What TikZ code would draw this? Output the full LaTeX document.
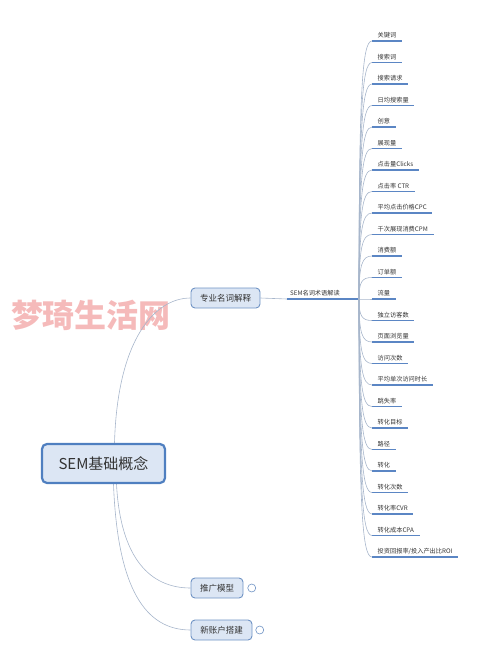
\documentclass[tikz,border=0pt]{standalone}
\usepackage{fontspec}
\setmainfont{Noto Sans CJK SC}
\usetikzlibrary{positioning}

\definecolor{boxfill}{HTML}{DCE6F4}
\definecolor{boxline}{HTML}{6F93C4}
\definecolor{rootline}{HTML}{4F7FC0}
\definecolor{conn}{HTML}{A7B6CB}
\definecolor{lineblue}{HTML}{5B86C4}
\definecolor{txt}{HTML}{333333}
\definecolor{wmcol}{HTML}{F5BABA}

\tikzset{
	rootbox/.style={draw=rootline,line width=2.2pt,fill=boxfill,rounded corners=5pt,
		minimum width=123pt,minimum height=39pt,font=\fontsize{15}{18}\selectfont,text=txt},
	subbox/.style={draw=boxline,line width=0.9pt,fill=boxfill,rounded corners=4pt,
		minimum height=20pt,inner xsep=0pt,font=\fontsize{8.5}{10}\selectfont,text=txt},
	leaf/.style={anchor=south west,inner xsep=5.5pt,inner ysep=2.5pt,
		font=\fontsize{6.2}{7}\selectfont,text=txt},
	underl/.style={draw=lineblue,line width=1.3pt},
	branch/.style={draw=conn,line width=0.6pt},
	fold/.style={circle,draw=boxline,line width=0.6pt,inner sep=0pt,minimum size=8pt},
	wmark/.style={font=\fontsize{32}{36}\selectfont\bfseries,text=wmcol}
}

\begin{document}
\begin{tikzpicture}[x=1pt,y=-1pt]
	\useasboundingbox (0,0) rectangle (500,667);
	% watermark
	\node[wmark] (wm) at (91,315) {梦琦生活网};
	% main nodes
	\node[rootbox] (root) at (103.5,463.5) {SEM基础概念};
	\node[subbox,minimum width=69pt] (zy) at (225.5,298) {专业名词解释};
	\node[subbox,minimum width=52pt] (tg) at (217,588) {推广模型};
	\node[subbox,minimum width=61pt] (xz) at (221.5,630) {新账户搭建};
	\node[fold,right=4pt of tg] (tgfold) {};
	\node[fold,right=3pt of xz] (xzfold) {};
	% term header
	\node[leaf,inner xsep=3pt] (term) at (287,299) {SEM名词术语解读};
	\coordinate (hub) at (359,299);
	\draw[branch] (zy.east) -- (term.south west);
	\draw[underl] (term.south west) -- (hub);
	% root connectors
	\draw[branch] ([xshift=11pt]root.north) .. controls +(3,-105) and +(-35,0) .. (zy.west);
	\draw[branch] ([xshift=13pt]root.south) .. controls +(4,75) and +(-40,0) .. (tg.west);
	\draw[branch] ([xshift=10pt]root.south) .. controls +(4,105) and +(-45,0) .. (xz.west);
	% leaves
	\foreach \t [count=\i from 0] in {关键词,搜索词,搜索请求,日均搜索量,创意,展现量,点击量Clicks,点击率 CTR,平均点击价格CPC,千次展现消费CPM,消费额,订单额,流量,独立访客数,页面浏览量,访问次数,平均单次访问时长,跳失率,转化目标,路径,转化,转化次数,转化率CVR,转化成本CPA,投资回报率/投入产出比ROI}{
		\pgfmathsetmacro\yy{41+21.5*\i}
		\pgfmathsetmacro\dy{\yy-299}
		\node[leaf] (l\i) at (372,\yy) {\t};
		\draw[underl] (l\i.south west) -- (l\i.south east);
		\draw[branch] (hub) .. controls +(0,0.8*\dy) and +(-10,0) .. (l\i.south west);
	}
\end{tikzpicture}
\end{document}
